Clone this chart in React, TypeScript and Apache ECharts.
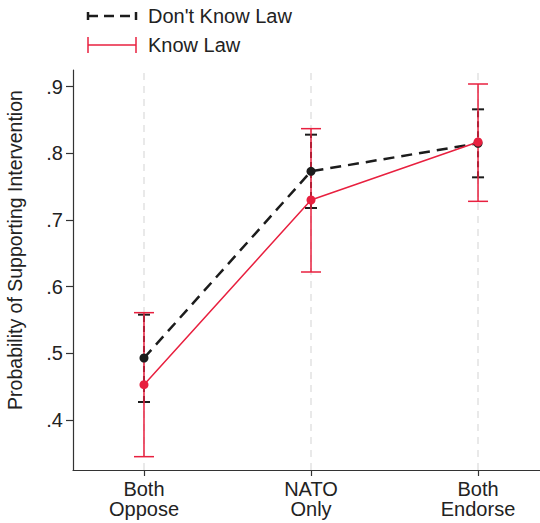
import React, { useEffect, useRef } from "react";
import * as echarts from "echarts";

const categories = ["Both\nOppose", "NATO\nOnly", "Both\nEndorse"];
const xPos = [1, 2, 3];
const dontKnowMean = [0.493, 0.773, 0.815];
const dontKnowLow = [0.427, 0.718, 0.764];
const dontKnowHigh = [0.558, 0.828, 0.866];
const knowMean = [0.453, 0.73, 0.817];
const knowLow = [0.345, 0.622, 0.728];
const knowHigh = [0.561, 0.837, 0.904];
const yTicks = [0.4, 0.5, 0.6, 0.7, 0.8, 0.9];

const BLACK = "#1c1c1c";
const RED = "#e8203f";
const FONT = "Liberation Sans, Arial, sans-serif";

function errorBars(low: number[], high: number[], color: string, half: number, dashed: boolean, width: number, z: number) {
  return {
    type: "custom",
    z,
    silent: true,
    data: xPos.map((x, i) => [x, low[i], high[i]]),
    renderItem: (params: any, api: any) => {
      const x = api.value(0);
      const lo = api.coord([x, api.value(1)]);
      const hi = api.coord([x, api.value(2)]);
      const style: any = { stroke: color, lineWidth: width, fill: null };
      if (dashed) style.lineDash = [6, 4];
      const capStyle = { stroke: color, lineWidth: width, fill: null };
      return {
        type: "group",
        children: [
          { type: "line", shape: { x1: lo[0], y1: lo[1], x2: hi[0], y2: hi[1] }, style },
          { type: "line", shape: { x1: lo[0] - half, y1: lo[1], x2: lo[0] + half, y2: lo[1] }, style: capStyle },
          { type: "line", shape: { x1: hi[0] - half, y1: hi[1], x2: hi[0] + half, y2: hi[1] }, style: capStyle },
        ],
      };
    },
  };
}

export default function App() {
  const ref = useRef<HTMLDivElement>(null);
  useEffect(() => {
    if (!ref.current) return;
    const chart = echarts.init(ref.current, null, { renderer: "svg" });
    chart.setOption({
      animation: false,
      backgroundColor: "#ffffff",
      textStyle: { fontFamily: FONT },
      grid: { left: 73, right: 0, top: 70, bottom: 53, containLabel: false },
      xAxis: {
        type: "value",
        min: 0.575,
        max: 3.371,
        axisLine: { show: true, lineStyle: { color: "#333", width: 1.2 } },
        axisTick: { show: true, customValues: xPos, length: 6, lineStyle: { color: "#333", width: 1.2 } },
        axisLabel: {
          customValues: xPos,
          formatter: (v: number) => categories[Math.round(v) - 1],
          fontSize: 20,
          lineHeight: 20,
          color: "#222",
          margin: 9,
          fontFamily: FONT,
        },
        splitLine: { show: false },
      },
      yAxis: {
        type: "value",
        min: 0.325,
        max: 0.925,
        axisLine: { show: true, lineStyle: { color: "#333", width: 1.2 } },
        axisTick: { show: true, customValues: yTicks, length: 7, lineStyle: { color: "#333", width: 1.2 } },
        axisLabel: {
          customValues: yTicks,
          formatter: (v: number) => v.toFixed(1).replace(/^0/, ""),
          fontSize: 20,
          color: "#222",
          margin: 10,
          fontFamily: FONT,
        },
        splitLine: { show: false },
      },
      graphic: [
        {
          type: "text",
          x: 15,
          y: 250,
          rotation: Math.PI / 2,
          style: {
            text: "Probability of Supporting Intervention",
            fontSize: 19.5,
            fontFamily: FONT,
            fill: "#222",
            align: "center",
            verticalAlign: "middle",
          },
        },
        { type: "line", shape: { x1: 88, y1: 16, x2: 136, y2: 16 }, style: { stroke: BLACK, lineWidth: 2.5, lineDash: [10, 6] } },
        { type: "line", shape: { x1: 88, y1: 12, x2: 88, y2: 20 }, style: { stroke: BLACK, lineWidth: 2.5 } },
        { type: "line", shape: { x1: 136, y1: 12, x2: 136, y2: 20 }, style: { stroke: BLACK, lineWidth: 2.5 } },
        { type: "text", x: 148, y: 16, style: { text: "Don't Know Law", fontSize: 20, fontFamily: FONT, fill: "#222", verticalAlign: "middle" } },
        { type: "line", shape: { x1: 88, y1: 45, x2: 136, y2: 45 }, style: { stroke: RED, lineWidth: 1.5 } },
        { type: "line", shape: { x1: 88, y1: 37, x2: 88, y2: 53 }, style: { stroke: RED, lineWidth: 1.5 } },
        { type: "line", shape: { x1: 136, y1: 37, x2: 136, y2: 53 }, style: { stroke: RED, lineWidth: 1.5 } },
        { type: "text", x: 148, y: 45, style: { text: "Know Law", fontSize: 20, fontFamily: FONT, fill: "#222", verticalAlign: "middle" } },
      ],
      series: [
        {
          type: "line",
          z: 0,
          silent: true,
          data: [],
          markLine: {
            z: 0,
            silent: true,
            symbol: "none",
            label: { show: false },
            lineStyle: { color: "#e2e2e2", type: [7, 6], width: 1.5 },
            data: xPos.map((x) => ({ xAxis: x })),
          },
        },
        errorBars(dontKnowLow, dontKnowHigh, BLACK, 6, true, 2, 2),
        errorBars(knowLow, knowHigh, RED, 10, false, 1.5, 3),
        {
          name: "Don't Know Law",
          type: "line",
          z: 4,
          data: xPos.map((x, i) => [x, dontKnowMean[i]]),
          symbol: "circle",
          symbolSize: 9,
          itemStyle: { color: BLACK },
          lineStyle: { color: BLACK, width: 2.5, type: [11, 7] },
        },
        {
          name: "Know Law",
          type: "line",
          z: 5,
          data: xPos.map((x, i) => [x, knowMean[i]]),
          symbol: "circle",
          symbolSize: 9,
          itemStyle: { color: RED },
          lineStyle: { color: RED, width: 1.5 },
        },
      ],
    });
    return () => chart.dispose();
  }, []);
  return <div ref={ref} style={{ position: "fixed", left: 0, top: 0, width: 540, height: 523 }} />;
}
